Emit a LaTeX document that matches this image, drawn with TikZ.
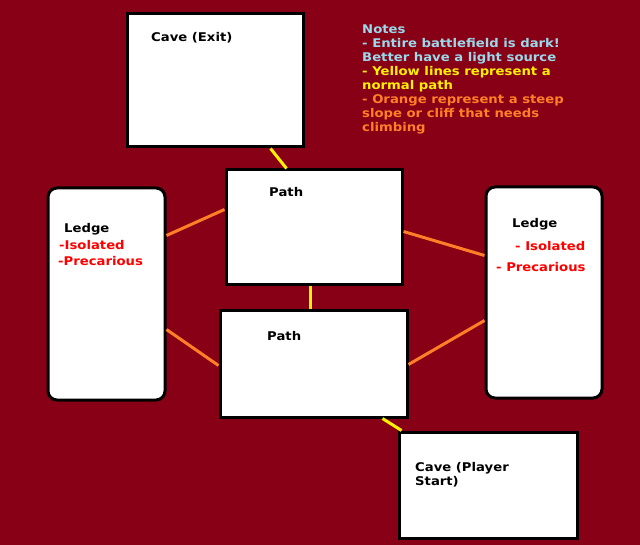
\documentclass[tikz,border=0pt]{standalone}
\usepackage{fontspec}
\setmainfont{DejaVu Sans}[FakeStretch=1.1]
\usetikzlibrary{calc}
\definecolor{bgred}{HTML}{880015}
\definecolor{noteblue}{HTML}{99D9EA}
\definecolor{pathyellow}{HTML}{FFF200}
\definecolor{steeporange}{HTML}{FF7F27}
\definecolor{textred}{HTML}{FF0000}
\begin{document}
\begin{tikzpicture}[x=1pt,y=-1pt,
  box/.style={draw=black, fill=white, line width=3pt, inner sep=0pt},
  ledgebox/.style={box, rounded corners=9pt},
  lbl/.style={anchor=base west, inner sep=0pt, font=\bfseries\fontsize{12}{14}\selectfont},
  note/.style={lbl, align=left},
  yline/.style={draw=pathyellow, line width=3pt},
  oline/.style={draw=steeporange, line width=3pt}]
\useasboundingbox[fill=bgred] (0,0) rectangle (640,545);
% boxes
\node[box, minimum width=176pt, minimum height=133pt] (cexit) at (215,80.5) {};
\node[box, minimum width=176pt, minimum height=115pt] (ptop) at (314,227.5) {};
\node[box, minimum width=187pt, minimum height=106pt] (pbot) at (313.5,364) {};
\node[box, minimum width=178pt, minimum height=106pt] (cstart) at (488,485) {};
\node[ledgebox, minimum width=117pt, minimum height=212pt] (lledge) at (106.5,294) {};
\node[ledgebox, minimum width=116pt, minimum height=211pt] (rledge) at (544,292.5) {};
% connectors
\draw[yline] ($(cexit.south west)+(145,0)$) -- ($(ptop.north west)+(62,0)$);
\draw[yline] ($(ptop.south west)+(86,0)$) -- ($(pbot.north west)+(92,0)$);
\draw[yline] ($(pbot.south west)+(164,0)$) -- ($(cstart.north west)+(4,0)$);
\draw[oline] ($(lledge.north east)+(0,49)$) -- ($(ptop.north west)+(0,41)$);
\draw[oline] ($(lledge.north east)+(0,143)$) -- ($(pbot.north west)+(0,56)$);
\draw[oline] ($(ptop.north east)+(0,63)$) -- ($(rledge.north west)+(0,70)$);
\draw[oline] ($(pbot.north east)+(0,55)$) -- ($(rledge.north west)+(0,135)$);
% labels
\node[lbl] (tcexit) at (151,42) {Cave (Exit)};
\node[lbl] (tptop) at (269,197) {Path};
\node[lbl] (tpbot) at (267,341) {Path};
\node[lbl] (tcs1) at (415,471) {Cave (Player};
\node[lbl] (tcs2) at (415,485) {Start)};
\node[lbl] (tll1) at (64,233) {Ledge};
\node[lbl, text=textred] (tll2) at (59,250) {-Isolated};
\node[lbl, text=textred] (tll3) at (58,266) {-Precarious};
\node[lbl] (trl1) at (512,228) {Ledge};
\node[lbl, text=textred] (trl2) at (515,251) {- Isolated};
\node[lbl, text=textred] (trl3) at (496,272) {- Precarious};
% notes
\node[lbl, text=noteblue] (n1) at (362,34) {Notes};
\node[lbl, text=noteblue] (n2) at (362,48) {- Entire battlefield is dark!};
\node[lbl, text=noteblue] (n3) at (362,62) {Better have a light source};
\node[lbl, text=pathyellow] (n4) at (362,76) {- Yellow lines represent a};
\node[lbl, text=pathyellow] (n5) at (362,90) {normal path};
\node[lbl, text=steeporange] (n6) at (362,104) {- Orange represent a steep};
\node[lbl, text=steeporange] (n7) at (362,118) {slope or cliff that needs};
\node[lbl, text=steeporange] (n8) at (362,132) {climbing};
\end{tikzpicture}
\end{document}
